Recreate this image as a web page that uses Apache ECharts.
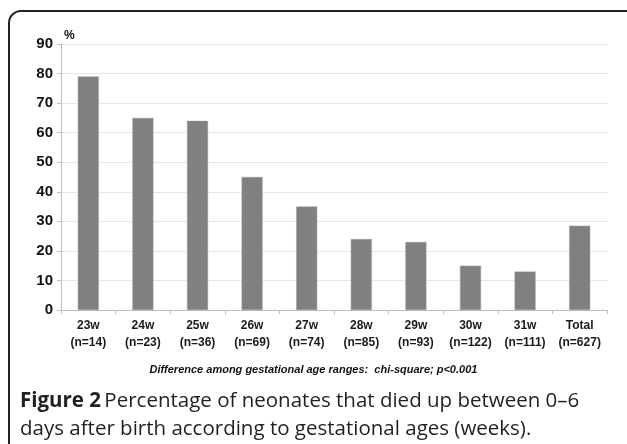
<!DOCTYPE html>
<html><head><meta charset="utf-8">
<script src="https://cdn.jsdelivr.net/npm/echarts@6/dist/echarts.min.js"></script>
<style>html,body{margin:0;padding:0;background:#fff}#c{width:627px;height:444px}</style>
</head><body><div id="c"></div>
<script>
const categories = ['23w', '24w', '25w', '26w', '27w', '28w', '29w', '30w', '31w', 'Total'];
const counts = ['n=14', 'n=23', 'n=36', 'n=69', 'n=74', 'n=85', 'n=93', 'n=122', 'n=111', 'n=627'];
const values = [79, 65, 64, 45, 35, 24, 23, 15, 13, 28.5];
const yTicks = [0, 10, 20, 30, 40, 50, 60, 70, 80, 90];

const chart = echarts.init(document.getElementById('c'), null, {renderer: 'canvas'});
chart.setOption({
  animation: false,
  backgroundColor: '#fff',
  grid: {left: 61, right: 20, top: 44, bottom: 134, containLabel: false},
  xAxis: {
    type: 'category',
    data: categories.map((c, i) => c + '\n(' + counts[i] + ')'),
    axisLine: {lineStyle: {color: '#bdbdbd', width: 1}},
    axisTick: {show: true, length: 4, lineStyle: {color: '#bdbdbd'}},
    axisLabel: {color: '#1a1a1a', fontFamily: 'Liberation Sans', fontWeight: 'bold', fontSize: 12, lineHeight: 17, margin: 7, interval: 0}
  },
  yAxis: {
    type: 'value', min: 0, max: 90, interval: 10,
    axisLine: {show: true, lineStyle: {color: '#bdbdbd'}},
    axisTick: {show: true, length: 4, lineStyle: {color: '#bdbdbd'}},
    splitLine: {lineStyle: {color: '#e6e6e6', width: 1}},
    axisLabel: {color: '#111', fontFamily: 'Liberation Sans', fontWeight: 'bold', fontSize: 15, margin: 8,
      formatter: v => yTicks.includes(v) ? String(v) : ''}
  },
  series: [{
    type: 'bar', data: values, barWidth: 21,
    itemStyle: {color: '#808080', borderColor: '#9a9a9a', borderWidth: 0.5}
  }],
  graphic: [
    {type: 'rect', shape: {x: 9, y: 11, width: 640, height: 460, r: 12}, style: {fill: null, stroke: '#222', lineWidth: 2}, z: 100},
    {type: 'text', left: 64, top: 30, style: {text: '%', font: 'bold 12px "Liberation Sans"', fill: '#111'}},
    {type: 'text', left: 'center', top: 364, style: {text: 'Difference among gestational age ranges:  chi-square; p<0.001', font: 'italic bold 11px "Liberation Sans"', fill: '#111'}},
    {type: 'text', left: 20, top: 391, style: {
      rich: {b: {fontFamily: 'Open Sans', fontWeight: 'bold', fontSize: 20.5, fill: '#231f20'}, n: {fontFamily: 'Open Sans', fontSize: 20.5, fill: '#231f20'}},
      text: '{b|Figure 2} {n|Percentage of neonates that died up between 0–6}'}},
    {type: 'text', left: 20, top: 419, style: {text: 'days after birth according to gestational ages (weeks).', font: '20.5px "Open Sans"', fill: '#231f20'}}
  ]
});
</script></body></html>
